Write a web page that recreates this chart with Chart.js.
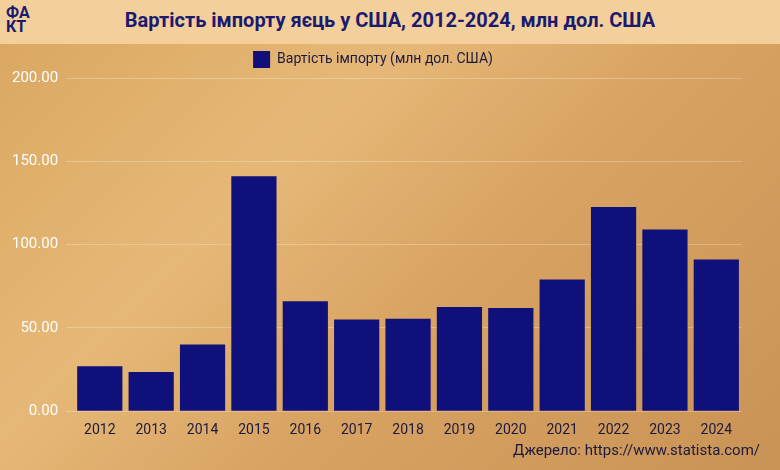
<!DOCTYPE html>
<html><head><meta charset="utf-8">
<script src="https://cdn.jsdelivr.net/npm/chart.js@4"></script>
<style>
html,body{margin:0;padding:0;}
body{width:780px;height:470px;position:relative;overflow:hidden;font-family:Roboto,sans-serif;
background:linear-gradient(135deg,#d9a660 0%,#e6b877 35%,#d7a262 60%,#c99355 100%);}
#hdr{position:absolute;left:0;top:0;width:780px;height:44px;background:#f3cf9c;}
#title{position:absolute;left:0;top:8px;width:780px;text-align:center;font-weight:bold;font-size:20px;color:#1b1a6e;}
#logo{position:absolute;left:6px;top:6px;font-weight:bold;font-size:16px;color:#1b1a6e;line-height:14px;}
#src{position:absolute;right:20px;top:441px;font-size:15px;color:#1b1a3e;}
#wrap{position:absolute;left:0;top:44px;width:780px;height:398px;}
</style></head><body>
<div id="hdr"></div>
<div id="logo">ФА<br>КТ</div>
<div id="title">Вартість імпорту яєць у США, 2012-2024, млн дол. США</div>
<div id="wrap"><canvas id="c"></canvas></div>
<div id="src">Джерело: https://www.statista.com/</div>
<script>
const categories=["2012","2013","2014","2015","2016","2017","2018","2019","2020","2021","2022","2023","2024"];
const seriesName="Вартість імпорту (млн дол. США)";
const values=[27,23.5,40,141,66,55,55.5,62.5,62,79,122.5,109,91];
new Chart(document.getElementById('c'),{type:'bar',
data:{labels:categories,datasets:[{label:seriesName,data:values,backgroundColor:'#10107a',barPercentage:0.88,categoryPercentage:1}]},
options:{responsive:true,maintainAspectRatio:false,animation:false,
layout:{padding:{left:4,right:38,top:2,bottom:0}},
plugins:{legend:{labels:{color:'#1b1a3e',font:{size:14,family:'Roboto'},boxWidth:17,boxHeight:17,padding:5}},tooltip:{enabled:false}},
scales:{x:{grid:{display:false},border:{display:false},ticks:{color:'#1b1a3e',font:{size:14,family:'Roboto'}}},
y:{min:0,max:200,ticks:{stepSize:50,color:'#ffffff',font:{size:15,family:'Roboto'},callback:v=>v.toFixed(2),padding:8},
grid:{color:'rgba(255,255,255,0.25)'},border:{display:false}}}}});
</script></body></html>
